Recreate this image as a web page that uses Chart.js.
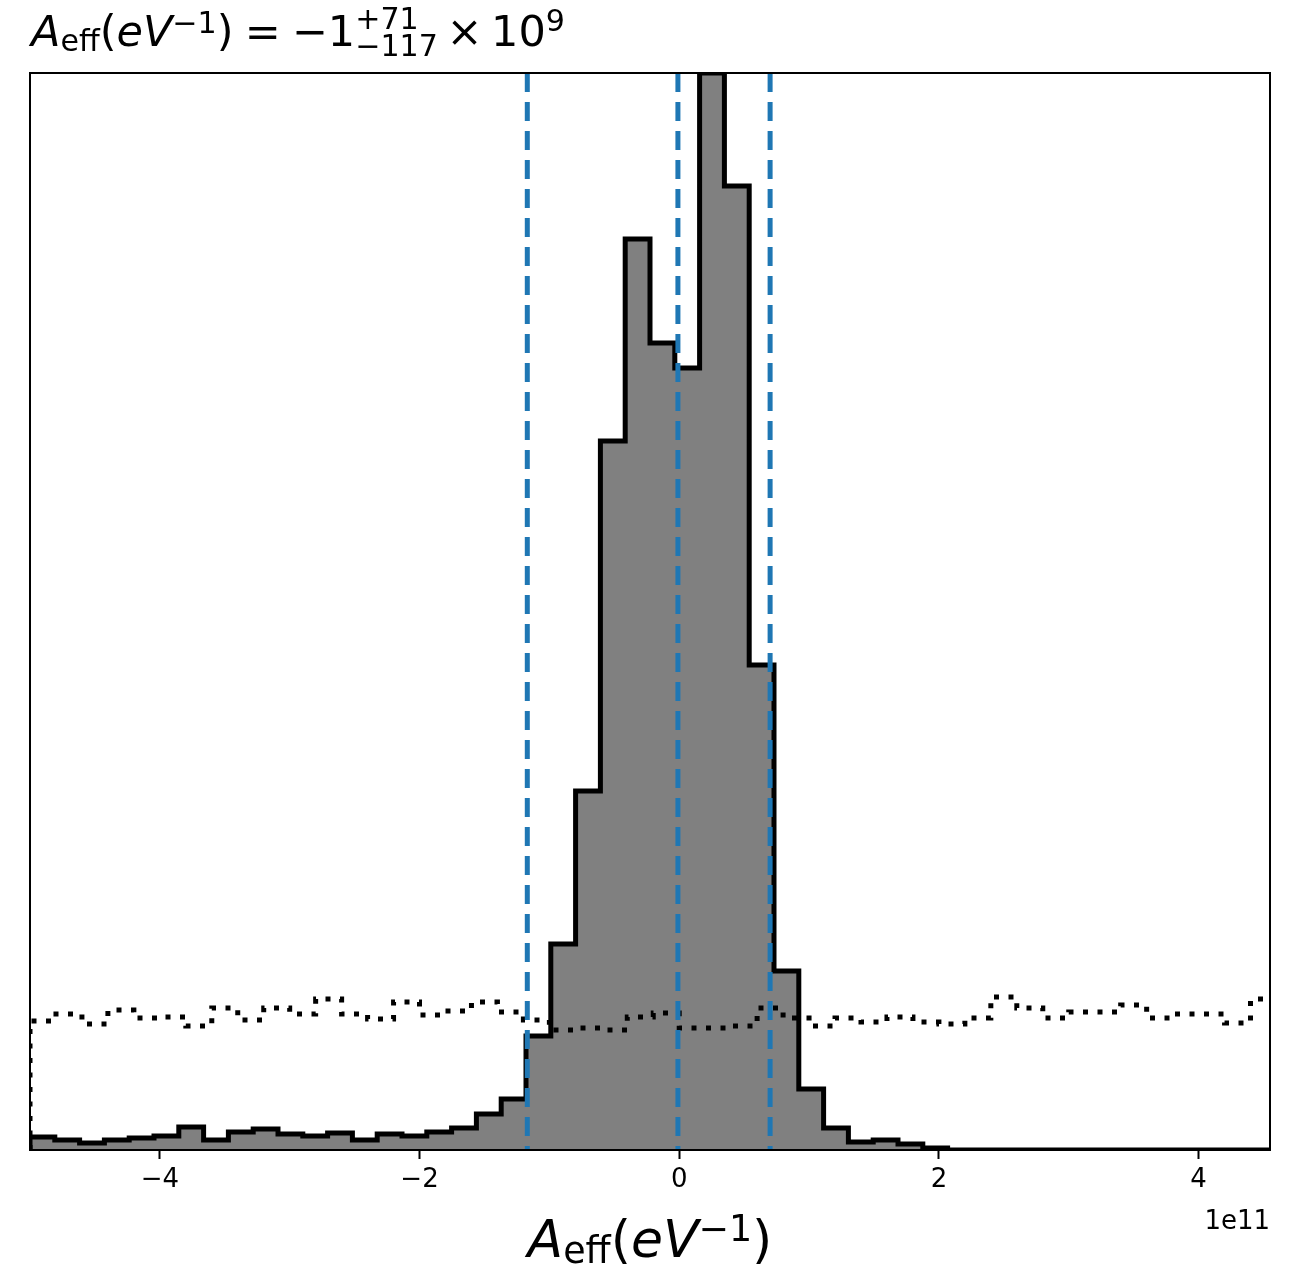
<!DOCTYPE html>
<html>
<head>
<meta charset="utf-8">
<script src="https://cdn.jsdelivr.net/npm/chart.js@4.4.0/dist/chart.umd.min.js"></script>
<style>
  html, body { margin: 0; padding: 0; background: #fff; }
  #wrap { width: 1289px; height: 1288px; }
</style>
</head>
<body>
<div id="wrap"><canvas id="histChart" width="1289" height="1288"></canvas></div>
<script>
// x values are in units of 1e11 eV^-1
// posterior samples: 50 bins between postStart and postEnd
const postStart = -5.0;
const postEnd = 4.55;
const postCounts = [13, 10, 7, 10, 12, 14, 23, 10, 18, 21,
                    16, 14, 17, 10, 16, 14, 18, 22, 36, 51,
                    114, 206, 359, 709, 911, 807, 782, 1077, 964, 485,
                    179, 61, 22, 8, 10, 6, 2, 0, 0, 0,
                    0, 0, 0, 0, 0, 0, 0, 0, 0, 0];

// prior samples: bins of priorWidth starting at priorStart (dotted)
const priorStart = -5.0;
const priorWidth = 0.2;
const priorCounts = [129, 136, 126, 140, 132, 133, 124, 142, 130, 142,
                     136, 151, 136, 131, 148, 135, 139, 148, 138, 130,
                     120, 122, 120, 133, 137, 122, 122, 124, 142, 132,
                     124, 132, 128, 133, 128, 126, 132, 153, 142, 132,
                     138, 138, 145, 132, 136, 136, 127, 151];

// median and 68% interval: -1e9 (+71e9 / -117e9)
const intervalLines = [-1.17, -0.01, 0.70];
const xTicks = [-4, -2, 0, 2, 4];
const offsetLabel = '1e11';

const yMax = Math.max(...postCounts);
const postWidth = (postEnd - postStart) / postCounts.length;

function stepPoints(start, width, counts) {
    const pts = [{ x: start, y: 0 }];
    counts.forEach((c, i) => pts.push({ x: start + i * width, y: c }));
    const end = start + counts.length * width;
    pts.push({ x: end, y: counts[counts.length - 1] });
    pts.push({ x: end, y: 0 });
    return pts;
}

function fmtTick(v) {
    return v < 0 ? '\u2212' + Math.abs(v) : String(v);
}

// tiny mathtext-like renderer: italic, sub/superscripts, stacked limits
function drawMath(ctx, items, x, y, size, measureOnly) {
    let cx = x;
    items.forEach(it => {
        if (it.gap) { cx += it.gap * size; return; }
        if (it.stack) {
            const s = size * 0.7;
            ctx.font = `${s}px "DejaVu Sans"`;
            const w = Math.max(ctx.measureText(it.stack[0]).width, ctx.measureText(it.stack[1]).width);
            if (!measureOnly) {
                ctx.fillText(it.stack[0], cx, y - 0.4 * size);
                ctx.fillText(it.stack[1], cx, y + 0.24 * size);
            }
            cx += w;
            return;
        }
        const s = size * (it.scale || 1);
        ctx.font = `${it.italic ? 'italic ' : ''}${s}px "DejaVu Sans"`;
        if (!measureOnly) ctx.fillText(it.t, cx, y + (it.dy || 0) * size);
        cx += ctx.measureText(it.t).width;
    });
    return cx - x;
}

const aeff = [
    { t: 'A', italic: true },
    { t: 'eff', scale: 0.7, dy: 0.12 },
    { t: '(' },
    { t: 'eV', italic: true },
    { t: '\u22121', scale: 0.7, dy: -0.3 },
    { t: ')' }
];
const titleParts = aeff.concat([
    { gap: 0.26 }, { t: '=' }, { gap: 0.26 },
    { t: '\u22121' },
    { stack: ['+71', '\u2212117'] },
    { gap: 0.2 }, { t: '\u00d7' }, { gap: 0.2 },
    { t: '10' },
    { t: '9', scale: 0.7, dy: -0.36 }
]);

const framePlugin = {
    id: 'frame',
    afterDraw(chart) {
        const { ctx, chartArea: a } = chart;
        ctx.save();
        ctx.strokeStyle = '#000';
        ctx.lineWidth = 2;
        ctx.strokeRect(a.left, a.top, a.right - a.left, a.bottom - a.top);

        ctx.fillStyle = '#000';
        ctx.textBaseline = 'alphabetic';
        ctx.textAlign = 'left';
        drawMath(ctx, titleParts, 31, 46, 43);

        const lw = drawMath(ctx, aeff, 0, 0, 52, true);
        drawMath(ctx, aeff, (a.left + a.right) / 2 - lw / 2, 1257, 52);

        ctx.font = '26px "DejaVu Sans"';
        ctx.textAlign = 'right';
        ctx.fillText(offsetLabel, a.right, 1229);
        ctx.restore();
    }
};

const datasets = intervalLines.map(v => ({
    data: [{ x: v, y: yMax }, { x: v, y: 0 }],
    borderColor: '#1f77b4',
    borderWidth: 5,
    borderDash: [19, 10],
    borderCapStyle: 'butt',
    pointRadius: 0,
    fill: false,
    order: 0
}));

datasets.push({
    data: stepPoints(priorStart, priorWidth, priorCounts),
    stepped: true,
    borderColor: '#000',
    borderWidth: 5,
    borderDash: [5, 9.5],
    borderCapStyle: 'butt',
    pointRadius: 0,
    fill: false,
    order: 1
});

datasets.push({
    data: stepPoints(postStart, postWidth, postCounts),
    stepped: true,
    borderColor: '#000',
    borderWidth: 5,
    borderJoinStyle: 'miter',
    backgroundColor: '#808080',
    pointRadius: 0,
    fill: 'origin',
    order: 2
});

const ctx = document.getElementById('histChart').getContext('2d');
new Chart(ctx, {
    type: 'line',
    data: { datasets: datasets },
    plugins: [framePlugin],
    options: {
        responsive: false,
        animation: false,
        devicePixelRatio: 1,
        layout: { padding: { left: 30, right: 19, top: 73, bottom: 78 } },
        plugins: {
            legend: { display: false },
            tooltip: { enabled: false },
            title: { display: false }
        },
        scales: {
            x: {
                type: 'linear',
                min: postStart,
                max: postEnd,
                afterFit(scale) { scale.height = 60; },
                afterBuildTicks(scale) { scale.ticks = xTicks.map(v => ({ value: v })); },
                border: { display: false },
                grid: { drawOnChartArea: false, drawTicks: true, tickLength: 9, tickWidth: 2, tickColor: '#000' },
                ticks: {
                    color: '#000',
                    padding: 6,
                    maxRotation: 0,
                    autoSkip: false,
                    font: { family: '"DejaVu Sans"', size: 26 },
                    callback: v => fmtTick(v)
                }
            },
            y: { display: false, min: 0, max: yMax }
        }
    }
});
</script>
</body>
</html>
